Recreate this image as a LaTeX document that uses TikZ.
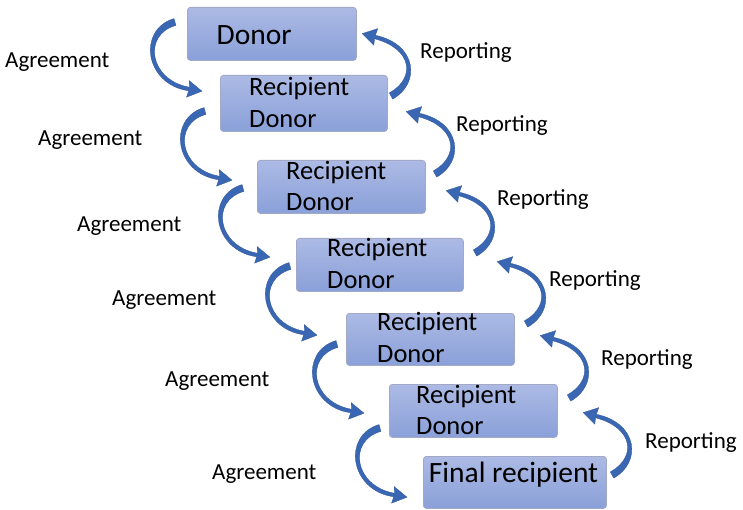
\documentclass[tikz,border=0pt]{standalone}
\usepackage{fontspec}
\setmainfont{Carlito}
\definecolor{arrowc}{HTML}{3A67B3}
\definecolor{arrowedge}{HTML}{2F5597}
\definecolor{boxtop}{HTML}{ACBAE4}
\definecolor{boxbot}{HTML}{8AA0D9}
\definecolor{boxline}{HTML}{A2A9C6}
\tikzset{
  box/.style={rectangle, rounded corners=3pt, draw=boxline, line width=0.8pt,
    top color=boxtop, bottom color=boxbot, inner sep=0pt, anchor=north west},
  bigtxt/.style={inner sep=0pt, anchor=base west, font=\fontsize{29.5}{33}\selectfont},
  midtxt/.style={inner sep=0pt, anchor=base west, font=\fontsize{26.5}{30}\selectfont},
  lbltxt/.style={inner sep=0pt, anchor=base west, font=\fontsize{23}{27}\selectfont},
  arrowfill/.style={fill=arrowc, draw=arrowedge, line width=0.3pt, line join=round},
  leftarr/.pic={
    \path[arrowfill] (-0.95,-3.4) .. controls (-38,7.5) and (-30.5,62.5) .. (13.7,68.8)
      -- (11.5,75.2) -- (27,69.2) -- (14.2,58.6) -- (14.3,65.2)
      .. controls (-26,58) and (-32.5,12.5) .. (0.95,3.4) -- cycle;
  },
  rightarr/.pic={
    \path[arrowfill] (1.7,3.1) .. controls (29.5,-12.5) and (26.5,-51.5) .. (-15.56,-60.75)
      -- (-13.2,-67.4) -- (-28.8,-62.4) -- (-17.2,-50.8) -- (-16.44,-57.25)
      .. controls (22,-47) and (24.5,-17.5) .. (-1.7,-3.1) -- cycle;
  }
}
\begin{document}
\begin{tikzpicture}[x=1pt,y=-1pt]
\useasboundingbox (0,0) rectangle (743,510);
% boxes
\node[box, minimum width=169pt, minimum height=53pt] (b1) at (187,7) {};
\node[box, minimum width=167pt, minimum height=56pt] (b2) at (220,75) {};
\node[box, minimum width=168pt, minimum height=53pt] (b3) at (257,160) {};
\node[box, minimum width=167pt, minimum height=53pt] (b4) at (296,238) {};
\node[box, minimum width=168pt, minimum height=52pt] (b5) at (346,313) {};
\node[box, minimum width=168pt, minimum height=53pt] (b6) at (389,384) {};
\node[box, minimum width=183pt, minimum height=52pt] (b7) at (423,456) {};
% box texts
\node[bigtxt] (t1) at (216.5,45) {Donor};
\node[midtxt] (t2a) at (249,96) {Recipient};
\node[midtxt] (t2b) at (249,128) {Donor};
\node[midtxt] (t3a) at (286,180) {Recipient};
\node[midtxt] (t3b) at (286,211) {Donor};
\node[midtxt] (t4a) at (327,257) {Recipient};
\node[midtxt] (t4b) at (327,288) {Donor};
\node[midtxt] (t5a) at (377,330) {Recipient};
\node[midtxt] (t5b) at (377,362) {Donor};
\node[midtxt] (t6a) at (416,403) {Recipient};
\node[midtxt] (t6b) at (416,434) {Donor};
\node[bigtxt] (t7) at (428.7,482) {Final recipient};
% agreement arrows
\coordinate (a1) at (175,22);
\coordinate (a2) at (205,111);
\coordinate (a3) at (243,188);
\coordinate (a4) at (290,266);
\coordinate (a5) at (337,344);
\coordinate (a6) at (380,428);
\foreach \c in {a1,a2,a3,a4,a5,a6} { \pic at (\c) {leftarr}; }
% reporting arrows
\coordinate (r1) at (391,96);
\coordinate (r2) at (435,174);
\coordinate (r3) at (475,253);
\coordinate (r4) at (526,324);
\coordinate (r5) at (569,398);
\coordinate (r6) at (612,475);
\foreach \c in {r1,r2,r3,r4,r5,r6} { \pic at (\c) {rightarr}; }
% labels
\node[lbltxt] (l1) at (5,68) {Agreement};
\node[lbltxt] (l2) at (38,146) {Agreement};
\node[lbltxt] (l3) at (77,232) {Agreement};
\node[lbltxt] (l4) at (112,305) {Agreement};
\node[lbltxt] (l5) at (165,386) {Agreement};
\node[lbltxt] (l6) at (212,479) {Agreement};
\node[lbltxt] (p1) at (420,59) {Reporting};
\node[lbltxt] (p2) at (456,132) {Reporting};
\node[lbltxt] (p3) at (497,206) {Reporting};
\node[lbltxt] (p4) at (549,287) {Reporting};
\node[lbltxt] (p5) at (601,365) {Reporting};
\node[lbltxt] (p6) at (645,448) {Reporting};
\end{tikzpicture}
\end{document}
